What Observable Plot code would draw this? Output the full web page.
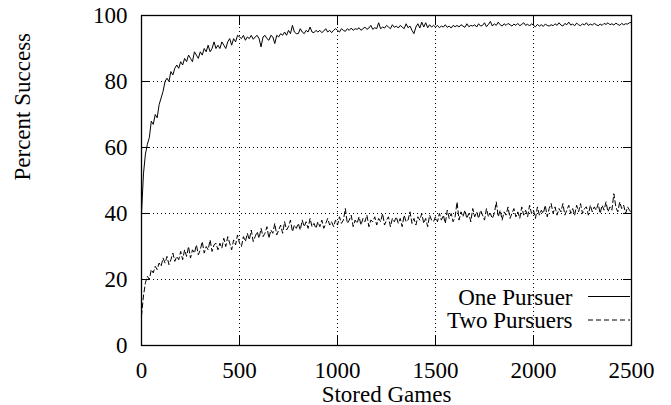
<!DOCTYPE html>
<html><head><meta charset="utf-8">
<script src="https://cdn.jsdelivr.net/npm/d3@7"></script>
<script src="https://cdn.jsdelivr.net/npm/@observablehq/plot@0.6"></script>
<style>body{margin:0;background:#fff;font-family:'Liberation Serif',serif} svg{display:block}
#fontwarm{position:absolute;left:0;top:0;font:23px 'Liberation Serif';color:#fff;pointer-events:none}</style>
</head><body><div id="fontwarm">&nbsp;</div><div id="chart"></div>
<script>
// sampled every 10 stored games, 0..2500
const gameStep = 10;
const onePursuer = [
  40, 52, 58, 61, 63, 68, 67, 70, 69, 73,
  75, 77, 80, 81, 80, 83, 82, 84, 85, 84,
  86, 85, 87, 86, 88, 87, 86, 89, 88, 87,
  89, 88, 90, 89, 91, 89, 90, 92, 90, 91,
  90, 92, 91, 90, 92, 93, 91, 93, 92, 94,
  93.5, 93, 94, 92.5, 93.5, 93, 94, 92.8, 93.5, 94,
  93, 90.5, 93.5, 94, 93, 92.5, 94, 93.5, 91.5, 94,
  93.5, 94.5, 94, 95, 94, 95.5, 94.5, 97, 95, 94.5,
  94.5, 96, 95, 94.5, 95.5, 95, 96.5, 95, 94.8, 95.5,
  95, 95.5, 94.8, 95.3, 96, 95, 95.5, 94.8, 95.5, 96,
  95.5, 95, 96, 95.5, 95.2, 96, 95.5, 96.2, 95.5, 96,
  95.8, 96.3, 95.5, 96, 96.5, 95.8, 96.2, 97, 95.8, 96.3,
  96, 97.8, 96, 96.5, 96.2, 97, 96.5, 96, 97.2, 96.4,
  96.8, 96.2, 97, 96.5, 96, 97.5, 96.3, 96.8, 95.5, 94.5,
  96.5, 97.5, 96.2, 98, 96.5, 97.8, 96.3, 97.2, 96.5, 97,
  96.5, 97, 96.3, 96.8, 96.5, 97.2, 96.4, 96.8, 96.2, 97,
  96.6, 97, 96.5, 97.2, 96.8, 96.4, 97.5, 96.6, 97, 96.8,
  97.2, 96.5, 97.5, 96.8, 97, 97.8, 96.6, 97.3, 98.2, 96.8,
  97.5, 97, 98, 97.2, 96.8, 97.5, 97, 97.6, 97.2, 96.8,
  97.4, 97, 97.6, 96.9, 97.3, 97.8, 97, 97.4, 96.8, 97.5,
  97, 96.6, 97.3, 96.8, 97.2, 96.7, 97.4, 97, 96.8, 97.2,
  96.9, 97.5, 97, 97.8, 97.1, 96.8, 97.6, 97.2, 98, 97.1,
  97.4, 96.9, 97.7, 97.2, 96.9, 97.5, 97.1, 97.8, 97, 97.4,
  97.1, 97.6, 97.2, 96.9, 97.4, 97, 97.6, 97.3, 97.8, 97.2,
  97.5, 97.1, 97.7, 97.3, 97, 97.6, 97.2, 97.5, 97.4, 97.8,
  98
];
const twoPursuers = [
  9, 15, 19, 21, 20, 23, 22, 24, 23, 25,
  24, 26.5, 25, 27, 24.5, 26, 28, 25.5, 27, 26,
  28.5, 26, 29, 27, 30, 26.5, 29, 28, 30.5, 27.5,
  29, 31.5, 28, 30, 29, 32, 28.5, 30.5, 31, 29,
  31, 29.5, 32.5, 30, 33, 31, 29, 32, 30.5, 33.5,
  31, 30, 33, 31.5, 34, 32, 35, 31.5, 33, 34.5,
  32.5, 35.5, 33, 34, 36, 32.5, 35, 34, 37, 33.5,
  35, 36.5, 34, 37.5, 35, 36, 38, 34.5, 36.5, 35.5,
  37, 35, 38, 36, 37.5, 35.5, 38.5, 36, 37, 35.5,
  37.5, 36, 38, 35.5, 37, 38.5, 36.5, 37.5, 36, 38,
  36.5, 39, 37, 38, 41.5, 37, 38, 39.5, 36, 38,
  37, 39, 36.5, 38.5, 37.5, 39.5, 36, 38, 37.5, 39,
  36.5, 38.5, 37.5, 40, 36.5, 38, 39, 36, 38.5, 37.5,
  39, 37, 38.5, 36, 39.5, 37.5, 38, 40.5, 37, 38.5,
  36.5, 39, 38, 40, 37, 38.5, 36, 39.5, 38, 37.5,
  39, 37.5, 40, 38, 39.5, 37, 41, 38.5, 40, 37.5,
  39, 43.5, 38, 40.5, 39, 41, 38.5, 40, 37.5, 41.5,
  39, 40.5, 38.5, 41, 39.5, 38, 41.5, 39, 40, 38.5,
  40, 43.5, 39, 41, 38, 40.5, 39.5, 42, 38.5, 40,
  41.5, 39, 40.5, 38.5, 42, 39.5, 41, 39, 42.5, 40,
  41, 38.5, 42, 39.5, 41, 40, 42.5, 39, 41.5, 43,
  40, 42, 39.5, 41.5, 40.5, 43, 39.5, 41, 42.5, 40,
  41.5, 39.5, 42.5, 40.5, 43, 40, 41.5, 42, 39.5, 42.5,
  40.5, 42, 41, 43, 40, 42.5, 41, 43.5, 40.5, 42,
  41, 46, 42, 40.5, 43.5, 41.5, 42.5, 40, 42, 41,
  40
];
const xTicks = [0, 500, 1000, 1500, 2000, 2500];
const yTicks = [0, 20, 40, 60, 80, 100];
const seriesNames = ["One Pursuer", "Two Pursuers"];
const xLabel = "Stored Games";
const yLabel = "Percent Success";

const one = onePursuer.map((v, i) => ({games: i * gameStep, pct: v}));
const two = twoPursuers.map((v, i) => ({games: i * gameStep, pct: v}));

const font = "Liberation Serif";
const fs = 23;
const txt = {fill: "#000", fontSize: fs, fontFamily: font};
const gridStyle = {stroke: "#000", strokeOpacity: 1, strokeWidth: 1, strokeDasharray: "1,3"};
const tickStyle = {tickSize: -9, fill: "none", label: null, stroke: "#000", strokeWidth: 1};

function render() {
  const chart = Plot.plot({
    width: 671, height: 405,
    marginLeft: 141, marginRight: 40, marginTop: 15, marginBottom: 60,
    style: {background: "#fff", color: "#000", fontFamily: font},
    x: {domain: [0, 2500]},
    y: {domain: [0, 100]},
    marks: [
      Plot.gridX(xTicks.slice(1, -1), gridStyle),
      Plot.gridY(yTicks.slice(1, -1), gridStyle),
      Plot.lineY(one, {x: "games", y: "pct", stroke: "#000", strokeWidth: 1}),
      Plot.lineY(two, {x: "games", y: "pct", stroke: "#000", strokeWidth: 1, strokeDasharray: "5,3"}),
      Plot.frame({stroke: "#000", strokeWidth: 1.3}),
      Plot.axisX(xTicks, {anchor: "bottom", ...tickStyle}),
      Plot.axisX(xTicks, {anchor: "top", ...tickStyle}),
      Plot.axisY(yTicks, {anchor: "left", ...tickStyle}),
      Plot.axisY(yTicks, {anchor: "right", ...tickStyle}),
      Plot.axisX(xTicks, {anchor: "bottom", tickSize: 0, tickPadding: 16, label: null, tickFormat: d3.format("d"), ...txt}),
      Plot.axisY(yTicks, {anchor: "left", tickSize: 0, tickPadding: 14, label: null, tickFormat: d3.format("d"), ...txt}),
      Plot.text([xLabel], {text: d => d, frameAnchor: "bottom", dy: 56, lineAnchor: "bottom", ...txt}),
      Plot.text([yLabel], {text: d => d, frameAnchor: "left", dx: -112, rotate: -90, lineAnchor: "bottom", ...txt}),
      Plot.text([seriesNames[0]], {text: d => d, frameAnchor: "bottom-right", dx: -59, dy: -48, textAnchor: "end", lineAnchor: "middle", ...txt}),
      Plot.text([seriesNames[1]], {text: d => d, frameAnchor: "bottom-right", dx: -59, dy: -25, textAnchor: "end", lineAnchor: "middle", ...txt})
    ]
  });
  const svg = d3.select(chart);
  const xr = chart.scale("x").range, yr = chart.scale("y").range;
  [{dash: null, dy: -48.5}, {dash: "5,3", dy: -25}].forEach(r => {
    svg.append("line")
      .attr("x1", xr[1] - 43).attr("x2", xr[1] - 1)
      .attr("y1", yr[0] + r.dy).attr("y2", yr[0] + r.dy)
      .attr("stroke", "#000").attr("stroke-width", 1)
      .attr("stroke-dasharray", r.dash);
  });
  document.getElementById("chart").replaceChildren(chart);
}
render();
if (document.fonts && document.fonts.load) {
  document.fonts.load(fs + "px 'Liberation Serif'").then(render).catch(() => {});
}
</script>
</body></html>
